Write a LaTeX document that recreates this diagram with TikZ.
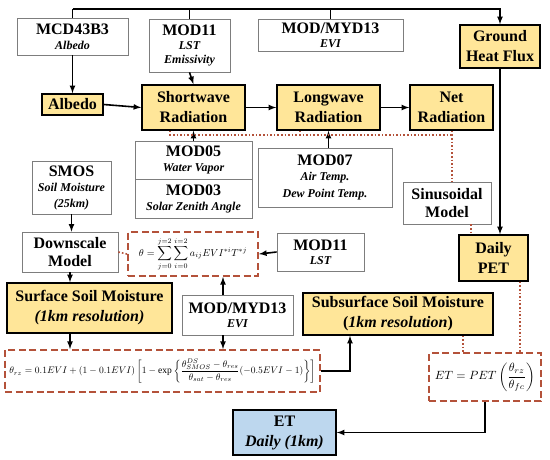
\documentclass[tikz,border=0pt]{standalone}
\usepackage{amsmath}
\usepackage{fontspec}
\setmainfont{Liberation Serif}
\usepackage{graphicx}
\usetikzlibrary{positioning}
\usetikzlibrary{arrows,calc}
\usepackage{xcolor}

\definecolor{boxyellow}{RGB}{255,230,153}
\definecolor{boxblue}{RGB}{189,215,238}
\definecolor{eqred}{RGB}{180,82,58}
\definecolor{srcgray}{RGB}{125,125,125}

\tikzset{
  srcbox/.style={draw=srcgray, line width=0.8pt, fill=white, align=center, inner sep=1pt,
    font=\fontsize{16}{18}\selectfont\bfseries},
  stepbox/.style={draw=black, line width=1.6pt, fill=boxyellow, align=center, inner sep=1pt,
    font=\fontsize{16}{20}\selectfont\bfseries},
  outbox/.style={stepbox, fill=boxblue},
  eqbox/.style={draw=eqred, line width=2pt, dash pattern=on 7pt off 3.5pt, fill=white, inner sep=1pt},
  link/.style={line width=1.6pt, ->},
  dotlink/.style={draw=eqred, line width=1.6pt, dotted},
}
\newcommand{\subtxt}[1]{{\fontsize{12}{15}\selectfont\itshape #1}}

\begin{document}
\begin{tikzpicture}[x=1pt, y=-1pt, >=latex]

\useasboundingbox (0,0) rectangle (550,459);

% data sources
\node[srcbox, minimum width=111pt, minimum height=37pt] (mcd) at (72.5,36.5) {MCD43B3\\[-3pt]\subtxt{Albedo}};
\node[srcbox, minimum width=81pt, minimum height=53pt] (modst) at (189.5,45.5) {MOD11\\[-4pt]\subtxt{LST}\\[-4pt]\subtxt{Emissivity}};
\node[srcbox, minimum width=145pt, minimum height=32pt] (mydtop) at (330.5,35) {MOD/MYD13\\[-4pt]\subtxt{EVI}};
\node[srcbox, minimum width=117pt, minimum height=38pt] (modwv) at (193.5,160) {MOD05\\[-3pt]\subtxt{Water Vapor}};
\node[srcbox, minimum width=117pt, minimum height=39pt] (modsza) at (193.5,198.5) {MOD03\\[-3pt]\subtxt{Solar Zenith Angle}};
\node[srcbox, minimum width=134pt, minimum height=59pt] (modair) at (325,177.5) {MOD07\\[-3pt]\subtxt{Air Temp.}\\[-1pt]\subtxt{Dew Point Temp.}};
\node[srcbox, minimum width=79pt, minimum height=53pt] (smos) at (71.5,187.5) {SMOS\\[-3pt]\subtxt{Soil Moisture}\\[-2pt]\subtxt{(25km)}};
\node[srcbox, minimum width=88pt, minimum height=42pt] (sinus) at (447,203) {Sinusoidal\\Model};
\node[srcbox, minimum width=96pt, minimum height=40pt] (downs) at (70,252) {Downscale\\Model};
\node[srcbox, minimum width=87pt, minimum height=38pt] (modlst) at (320.5,252) {MOD11\\[-4pt]\subtxt{LST}};
\node[srcbox, minimum width=111pt, minimum height=40pt] (mydbot) at (237.5,315) {MOD/MYD13\\[-4pt]\subtxt{EVI}};

% processing steps
\node[stepbox, minimum width=80pt, minimum height=43pt] (ghf) at (500,46.5) {Ground\\Heat Flux};
\node[stepbox, minimum width=61pt, minimum height=21pt] (albedo) at (72.5,104.5) {Albedo};
\node[stepbox, minimum width=103pt, minimum height=45pt] (swr) at (193.5,107.5) {Shortwave\\Radiation};
\node[stepbox, minimum width=103pt, minimum height=45pt] (lwr) at (328.5,107.5) {Longwave\\Radiation};
\node[stepbox, minimum width=83pt, minimum height=45pt] (netr) at (451.5,107.5) {Net\\Radiation};
\node[stepbox, minimum width=69pt, minimum height=46pt] (pet) at (493.5,258) {Daily\\PET};
\node[stepbox, minimum width=165pt, minimum height=50pt] (ssm) at (89.5,308) {Surface Soil Moisture\\\textit{(1km resolution)}};
\node[stepbox, minimum width=190pt, minimum height=42pt] (subsm) at (398,314) {Subsurface Soil Moisture\\(\textit{1km resolution})};
\node[outbox, minimum width=103pt, minimum height=45pt] (et) at (284.5,432.5) {ET\\\textit{Daily (1km)}};

% equations
\node[eqbox, minimum width=130pt, minimum height=44pt] (thetaeq) at (193,254)
  {\resizebox{108pt}{!}{$\displaystyle \theta=\sum_{j=0}^{j=2}\sum_{i=0}^{i=2}a_{ij}EVI^{*i}T^{*j}$}};
\node[eqbox, minimum width=315pt, minimum height=42pt] (rzeq) at (162.5,371)
  {\resizebox{306pt}{!}{$\theta_{rz}=0.1EVI+(1-0.1EVI)\left[1-\exp\left\{\dfrac{\theta^{DS}_{SMOS}-\theta_{res}}{\theta_{sat}-\theta_{res}}(-0.5EVI-1)\right\}\right]$}};
\node[eqbox, minimum width=112pt, minimum height=48pt] (eteq) at (485,377)
  {\resizebox{100pt}{!}{$ET=PET\left(\dfrac{\theta_{rz}}{\theta_{fc}}\right)$}};

% connectors
\coordinate (bus) at (0,9);
\draw[line width=1.6pt] (mcd.north) -- (mcd.north |- bus);
\draw[link] (mcd.north |- bus) -| (ghf.north);
\draw[line width=1.6pt] (modst.north) -- (modst.north |- bus);
\draw[line width=1.6pt] (mydtop.north) -- (mydtop.north |- bus);

\draw[link] (mcd.south) -- (albedo.north);
\draw[link] (modst.south) -- (swr.north);
\draw[link] (albedo.east) -- (swr.west);
\draw[link] (swr.east) -- (lwr.west);
\draw[link] (lwr.east) -- (netr.west);
\draw[link] (modwv.north) -- (swr.south);
\draw[link] (modair.north -| lwr.south) -- (lwr.south);
\draw[link] (ghf.south) -- (ghf.south |- pet.north);

\coordinate (dj) at (452,135);
\draw[dotlink] ([xshift=-23.5pt]swr.south) |- (dj);
\draw[dotlink] ([xshift=-28.5pt]lwr.south) -- ([xshift=-28.5pt]lwr.south |- dj);
\draw[dotlink] (netr.south -| dj) -- (dj) -- (dj |- sinus.north);
\draw[dotlink] ([xshift=24pt]sinus.south) -- ([xshift=24pt]sinus.south |- pet.north);

\draw[link] (smos.south) -- (smos.south |- downs.north);
\draw[dotlink] (downs.east) -- (thetaeq.west);
\draw[link] (modlst.west) -- (thetaeq.east);
\draw[link] ([xshift=-14.5pt]mydbot.north) -- ([xshift=-14.5pt]mydbot.north |- thetaeq.south);
\draw[link] (downs.south) -- (downs.south |- ssm.north);
\draw[link] (downs.south |- ssm.south) -- (downs.south |- rzeq.north);
\draw[link] ([xshift=-14.5pt]mydbot.south) -- ([xshift=-14.5pt]mydbot.south |- rzeq.north);
\draw[link] (rzeq.east) -| ([xshift=-48pt]subsm.south);
\draw[dotlink] ([xshift=-22pt]eteq.north |- subsm.south) -- ([xshift=-22pt]eteq.north);
\draw[dotlink] ([xshift=26.5pt]pet.south) -- ([xshift=26.5pt]pet.south |- eteq.north);
\draw[link] (eteq.south) |- (et.east);

\end{tikzpicture}
\end{document}
